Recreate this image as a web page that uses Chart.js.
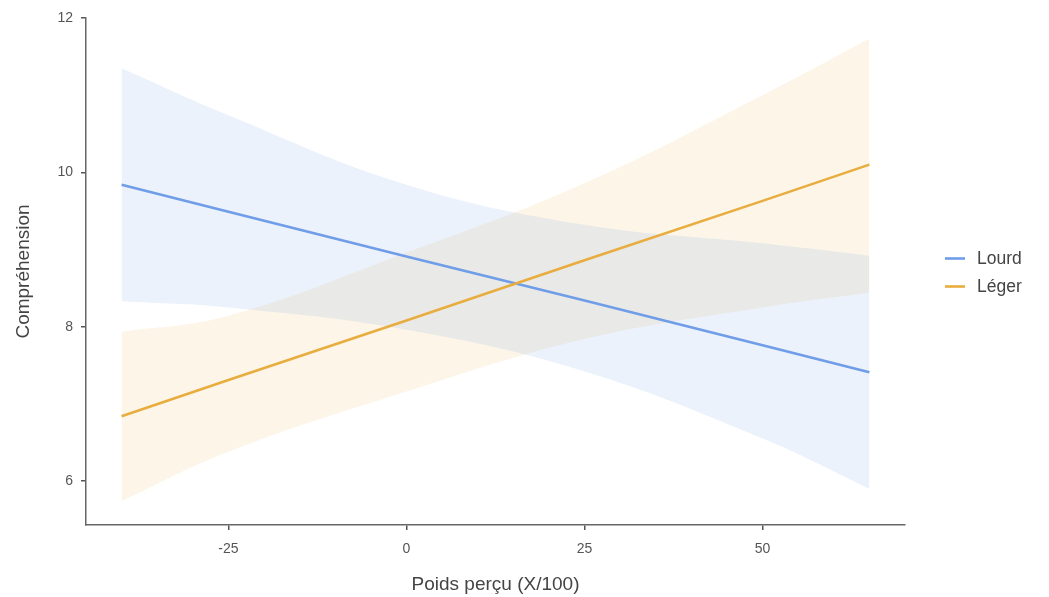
<!DOCTYPE html>
<html>
<head>
<meta charset="utf-8">
<script src="https://cdn.jsdelivr.net/npm/chart.js@4/dist/chart.umd.min.js"></script>
<style>
  html, body { margin: 0; padding: 0; background: #ffffff; }
  #wrap { width: 1049px; height: 597px; position: relative; }
</style>
</head>
<body>
<div id="wrap"><canvas id="c" width="1049" height="597"></canvas></div>
<script>
// Predictor values (Poids perçu, X/100) where the fits are evaluated
const xValues = [-40, -25, 0, 25, 50, 65];

// Group "Lourd": fitted line and 95% confidence band
const lourdFit   = [9.84, 9.49, 8.91, 8.34, 7.76, 7.41];
const lourdUpper = [11.35, 10.74, 9.84, 9.32, 9.08, 8.92];
const lourdLower = [8.33, 8.25, 7.96, 7.42, 6.55, 5.90];

// Group "Léger": fitted line and 95% confidence band
const legerFit   = [6.84, 7.31, 8.08, 8.86, 9.63, 10.10];
const legerUpper = [7.93, 8.14, 8.96, 9.86, 11.00, 11.73];
const legerLower = [5.74, 6.38, 7.16, 7.84, 8.25, 8.44];

// Axis ticks
const xTicks = [-25, 0, 25, 50];
const yTicks = [6, 8, 10, 12];

const seriesNames = ['Lourd', 'Léger'];

const BLUE = '#6f9de8';
const ORANGE = '#e8ad3e';
const BLUE_BAND = 'rgba(111,157,232,0.13)';
const ORANGE_BAND = 'rgba(232,173,62,0.12)';
const FONT = '"Liberation Sans", Arial, sans-serif';

const pts = (ys) => xValues.map((x, i) => ({ x: x, y: ys[i] }));

// Bands sit underneath the fitted lines (higher order = drawn earlier)
const bandStyle = {
  borderWidth: 0,
  pointRadius: 0,
  tension: 0.4,
  order: 2
};

const datasets = [
  Object.assign({ label: 'lourd-upper', data: pts(lourdUpper), fill: '+1', backgroundColor: BLUE_BAND, borderColor: 'rgba(0,0,0,0)' }, bandStyle),
  Object.assign({ label: 'lourd-lower', data: pts(lourdLower), fill: false, borderColor: 'rgba(0,0,0,0)' }, bandStyle),
  Object.assign({ label: 'leger-upper', data: pts(legerUpper), fill: '+1', backgroundColor: ORANGE_BAND, borderColor: 'rgba(0,0,0,0)' }, bandStyle),
  Object.assign({ label: 'leger-lower', data: pts(legerLower), fill: false, borderColor: 'rgba(0,0,0,0)' }, bandStyle),
  { label: seriesNames[0], data: pts(lourdFit), borderColor: BLUE, borderWidth: 2.6, pointRadius: 0, fill: false, tension: 0, order: 1 },
  { label: seriesNames[1], data: pts(legerFit), borderColor: ORANGE, borderWidth: 2.6, pointRadius: 0, fill: false, tension: 0, order: 0 }
];

// Legend drawn to the right of the plotting area
const sideLegend = {
  id: 'sideLegend',
  afterDraw(chart) {
    const ctx = chart.ctx;
    const area = chart.chartArea;
    const items = [
      { name: seriesNames[0], color: BLUE },
      { name: seriesNames[1], color: ORANGE }
    ];
    const midY = (area.top + area.bottom) / 2;
    const rowH = 28;
    const x0 = area.right + 40;
    ctx.save();
    ctx.font = '17.5px ' + FONT;
    ctx.textBaseline = 'middle';
    items.forEach((it, i) => {
      const y = midY - rowH / 2 + i * rowH + 1;
      ctx.strokeStyle = it.color;
      ctx.lineWidth = 2.6;
      ctx.beginPath();
      ctx.moveTo(x0, y);
      ctx.lineTo(x0 + 20, y);
      ctx.stroke();
      ctx.fillStyle = '#444444';
      ctx.fillText(it.name, x0 + 32, y + 1);
    });
    ctx.restore();
  }
};

new Chart(document.getElementById('c'), {
  type: 'line',
  data: { datasets: datasets },
  options: {
    responsive: false,
    animation: false,
    layout: { padding: { left: 0, right: 144, top: 18, bottom: 0 } },
    plugins: {
      legend: { display: false },
      tooltip: { enabled: false },
      filler: { propagate: false, drawTime: 'beforeDatasetsDraw' }
    },
    scales: {
      x: {
        type: 'linear',
        min: -45,
        max: 70,
        afterBuildTicks: (s) => { s.ticks = xTicks.map(v => ({ value: v })); },
        afterFit: (s) => { s.height = 72; },
        grid: { display: true, drawOnChartArea: false, drawTicks: true, tickLength: 5, color: '#555555', lineWidth: 1.5 },
        border: { display: true, color: '#666666', width: 1.5 },
        ticks: { color: '#555555', padding: 11, font: { size: 14, family: FONT } },
        title: { display: true, text: 'Poids perçu (X/100)', color: '#444444', padding: { top: 4, bottom: 1 }, font: { size: 19, family: FONT } }
      },
      y: {
        type: 'linear',
        min: 5.43,
        max: 12,
        afterBuildTicks: (s) => { s.ticks = yTicks.map(v => ({ value: v })); },
        afterFit: (s) => { s.width = 86; },
        grid: { display: true, drawOnChartArea: false, drawTicks: true, tickLength: 5, color: '#555555', lineWidth: 1.5 },
        border: { display: true, color: '#666666', width: 1.5 },
        ticks: { color: '#555555', padding: 8, font: { size: 14, family: FONT } },
        title: { display: true, text: 'Compréhension', color: '#444444', padding: { top: 12, bottom: 0 }, font: { size: 19, family: FONT } }
      }
    }
  },
  plugins: [sideLegend]
});
</script>
</body>
</html>
